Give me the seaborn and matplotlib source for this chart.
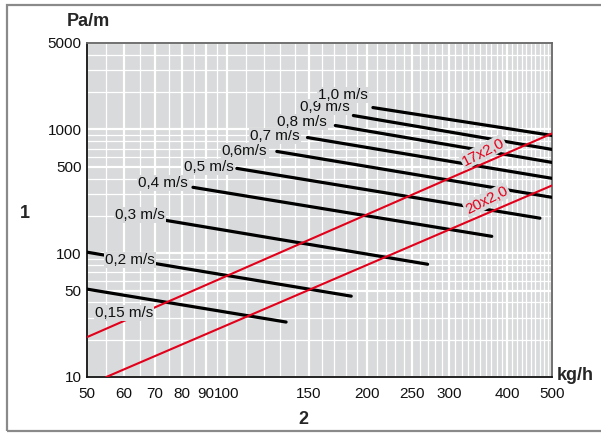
#!/usr/bin/env python3
"""Pressure loss chart (Pa/m over kg/h) for pipe sizes and flow velocities."""

import matplotlib
matplotlib.use("Agg")
import matplotlib.pyplot as plt
import matplotlib.patches as patches
from matplotlib.ticker import FixedLocator, LogLocator, NullFormatter
import pandas as pd
import seaborn as sns

# velocity lines: label, start/end mass flow (kg/h), start/end pressure loss (Pa/m)
VELOCITIES = ["0,15 m/s", "0,2 m/s", "0,3 m/s", "0,4 m/s", "0,5 m/s",
              "0,6m/s", "0,7 m/s", "0,8 m/s", "0,9 m/s", "1,0 m/s"]
VEL_FLOW_START = [50, 50, 73.5, 84.5, 105, 128, 149, 171, 187, 206]
VEL_FLOW_END = [134, 185, 270, 371, 471, 500, 500, 500, 500, 500]
VEL_DP_START = [51.3, 102, 185, 341, 485, 665, 861, 1077, 1297, 1504]
VEL_DP_END = [27.8, 45, 81.5, 137, 192, 283, 403, 542, 690, 895]

# pipe lines
PIPES = ["17x2,0", "20x2,0"]
PIPE_FLOW_START = [50, 55]
PIPE_FLOW_END = [500, 500]
PIPE_DP_START = [21.0, 10.0]
PIPE_DP_END = [929, 353]

X_TICKS = [50, 60, 70, 80, 90, 100, 150, 200, 250, 300, 400, 500]
Y_TICKS = [10, 50, 100, 500, 1000, 5000]

BG = "#d8dadb"
RED = "#e2001a"
FONT = ["Liberation Sans", "DejaVu Sans"]

# label anchors in axes fraction (left edge, vertical centre)
VEL_LABEL_POS = [(0.017, 0.192), (0.039, 0.350), (0.060, 0.485), (0.110, 0.581),
                 (0.209, 0.629), (0.290, 0.677), (0.351, 0.722), (0.409, 0.763),
                 (0.458, 0.808), (0.497, 0.844)]
PIPE_LABEL_POS = [(0.852, 0.674), (0.860, 0.530)]


def build_frame(names, f0, f1, p0, p1):
    rows = []
    for n, a, b, c, d in zip(names, f0, f1, p0, p1):
        rows.append({"series": n, "flow": a, "dp": c})
        rows.append({"series": n, "flow": b, "dp": d})
    return pd.DataFrame(rows)


def main():
    sns.set_theme(style="white")
    plt.rcParams["font.family"] = FONT

    vel = build_frame(VELOCITIES, VEL_FLOW_START, VEL_FLOW_END, VEL_DP_START, VEL_DP_END)
    pipe = build_frame(PIPES, PIPE_FLOW_START, PIPE_FLOW_END, PIPE_DP_START, PIPE_DP_END)

    fig = plt.figure(figsize=(6.01, 4.33), dpi=100)
    ax = fig.add_axes([87 / 601, 1 - 377 / 433, 465 / 601, 334 / 433])
    ax.set_facecolor(BG)
    ax.set_xscale("log")
    ax.set_yscale("log")

    sns.lineplot(data=vel, x="flow", y="dp", hue="series",
                 palette={n: "black" for n in VELOCITIES}, linewidth=2.3,
                 estimator=None, sort=False, legend=False, ax=ax, zorder=3)
    sns.lineplot(data=pipe, x="flow", y="dp", hue="series",
                 palette={n: RED for n in PIPES}, linewidth=1.5,
                 estimator=None, sort=False, legend=False, ax=ax, zorder=4)

    ax.set_xlim(50, 500)
    ax.set_ylim(10, 5000)
    ax.xaxis.set_major_locator(FixedLocator(X_TICKS))
    ax.xaxis.set_minor_locator(FixedLocator(list(range(55, 100, 5)) + list(range(110, 500, 10))))
    ax.xaxis.set_minor_formatter(NullFormatter())
    ax.set_xticklabels([str(t) for t in X_TICKS])
    ax.yaxis.set_major_locator(FixedLocator(Y_TICKS))
    ax.yaxis.set_minor_locator(LogLocator(base=10, subs=range(1, 10)))
    ax.yaxis.set_minor_formatter(NullFormatter())
    ax.set_yticklabels([str(t) for t in Y_TICKS])

    ax.grid(which="major", color="white", linewidth=1.6, zorder=0)
    ax.grid(which="minor", color="white", linewidth=0.9, zorder=0)
    ax.set_axisbelow(True)
    ax.tick_params(which="both", length=0, labelsize=11, colors="#111111")
    ax.tick_params(axis="x", pad=7)
    ax.tick_params(axis="y", pad=4)
    ax.set_xlabel("")
    ax.set_ylabel("")

    for side in ["left", "bottom"]:
        ax.spines[side].set_color("#111111")
        ax.spines[side].set_linewidth(1.3)
    for side in ["top", "right"]:
        ax.spines[side].set_color("#666666")
        ax.spines[side].set_linewidth(1.3)

    box = dict(boxstyle="square,pad=0.08", fc=BG, ec="none")
    for name, (x, y) in zip(VELOCITIES, VEL_LABEL_POS):
        ax.text(x, y, name, transform=ax.transAxes, ha="left", va="center",
                fontsize=11, color="#111111", bbox=box, zorder=5)
    for name, (x, y) in zip(PIPES, PIPE_LABEL_POS):
        ax.text(x, y, name, transform=ax.transAxes, ha="center", va="center",
                fontsize=11, color=RED, rotation=27, bbox=box, zorder=6)

    fig.text(67 / 601, 1 - 21 / 433, "Pa/m", ha="left", va="center",
             fontsize=13, fontweight="bold")
    fig.text(557 / 601, 1 - 375 / 433, "kg/h", ha="left", va="center",
             fontsize=13, fontweight="bold")
    fig.text(25 / 601, 1 - 213 / 433, "1", ha="center", va="center",
             fontsize=13, fontweight="bold")
    fig.text(303 / 601, 1 - 420 / 433, "2", ha="center", va="center",
             fontsize=13, fontweight="bold")

    frame = patches.Rectangle((7 / 601, 2 / 433), 1.2, 426 / 433, transform=fig.transFigure,
                              fill=False, edgecolor="#8a8a8a", linewidth=1.6, clip_on=False)
    fig.add_artist(frame)

    fig.savefig("out.png", dpi=100, facecolor="white")


if __name__ == "__main__":
    main()
